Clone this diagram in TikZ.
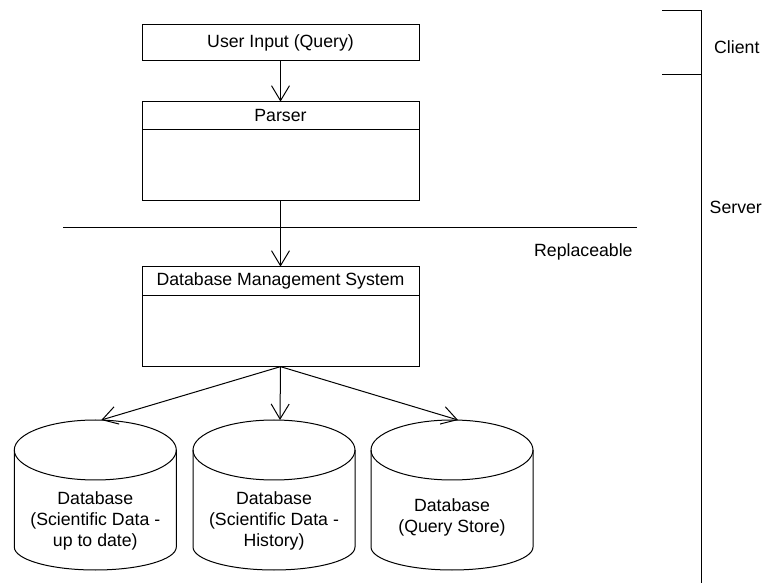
\documentclass[tikz,border=0pt]{standalone}
\usepackage{fontspec}
\setmainfont{Liberation Sans}
\usetikzlibrary{arrows.meta}
\usetikzlibrary{positioning}

\tikzset{
  box/.style={draw, line width=1pt, minimum width=277pt, inner sep=0pt, outer sep=0pt},
  dbtext/.style={align=center, inner sep=0pt},
  arr/.style={line width=1pt, -{Straight Barb[length=15pt,width=18pt]}},
  lbl/.style={inner sep=0pt, anchor=base west}
}

\begin{document}
\begin{tikzpicture}[x=1pt,y=1pt,font=\fontsize{17.7}{21}\selectfont]
	\useasboundingbox (0,0) rectangle (767,583);
	% client side
	\node[box, minimum height=36pt] (input) at (280.5,540) {User Input (Query)};
	% parser with empty body
	\node[box, minimum height=28.3pt] (parser) at (280.5,467.2) {Parser};
	\node[box, minimum height=71pt, anchor=north] (parserbody) at (parser.south) {};
	% dbms with empty body
	\node[box, minimum height=29.3pt] (dbms) at (280.5,301.7) {Database Management System};
	\node[box, minimum height=70.7pt, anchor=north] (dbmsbody) at (dbms.south) {};
	% databases
	\foreach \cx/\nm in {95.3/dbcurrent, 274/dbhistory, 452/dbquery}{
		\draw[line width=1pt] (\cx-81,133) -- (\cx-81,36) arc (180:360:81 and 23) -- (\cx+81,133);
		\draw[line width=1pt] (\cx,133) ellipse (81 and 30);
		\coordinate (\nm) at (\cx+6,163);
	}
	\node[dbtext] (dbcurrenttext) at (95.3,62) {Database\\(Scientific Data -\\up to date)};
	\node[dbtext] (dbhistorytext) at (274,62) {Database\\(Scientific Data -\\History)};
	\node[dbtext] (dbquerytext) at (452,66) {Database\\(Query Store)};
	% arrows
	\draw[arr] (input) -- (parser);
	\draw[arr] (parserbody) -- (dbms);
	\draw[arr] (dbmsbody.south) -- (dbcurrent);
	\draw[arr] (dbmsbody.south) -- (dbhistory);
	\draw[arr] (dbmsbody.south) -- (dbquery);
	% replaceable border
	\coordinate (replwest) at (63.3,355.7);
	\coordinate (repleast) at (637,355.7);
	\draw[line width=1pt] (replwest) -- (repleast);
	\node[lbl] (repl) at (534,326.3) {Replaceable};
	% client / server bracket
	\draw[line width=1pt] (662,572) -- (701,572) -- (701,0);
	\draw[line width=1pt] (662,508) -- (701,508);
	\node[lbl] (client) at (714,529.7) {Client};
	\node[lbl] (server) at (709.5,369) {Server};
\end{tikzpicture}
\end{document}
